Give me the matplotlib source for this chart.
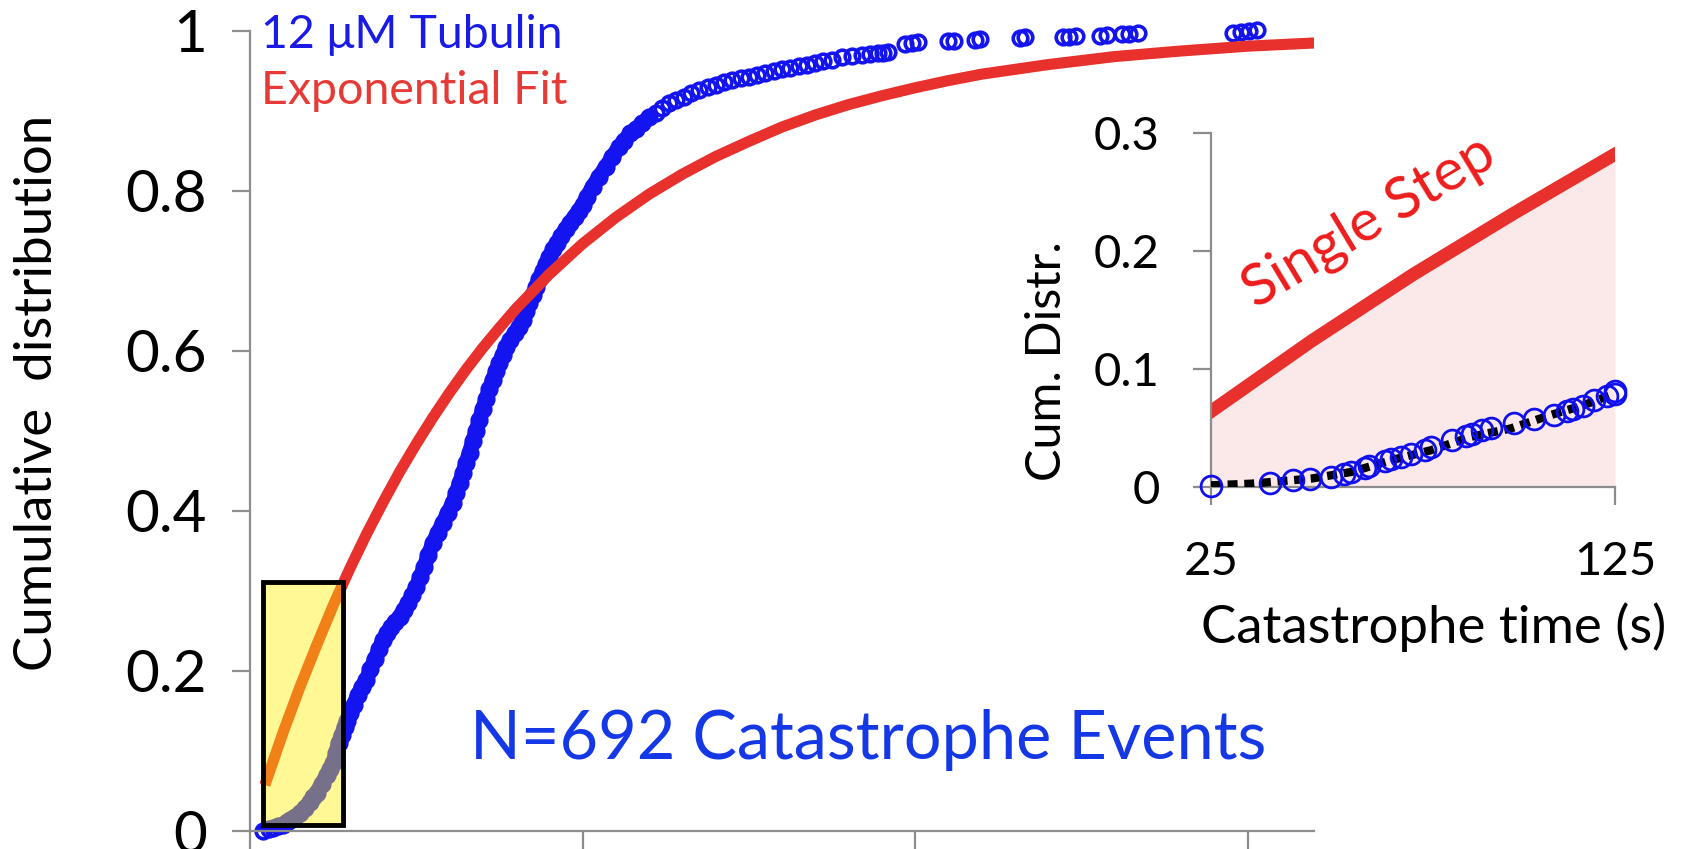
import numpy as np
import matplotlib.pyplot as plt
from matplotlib.patches import Rectangle

plt.rcParams['font.family'] = ['Lato', 'DejaVu Sans']

# catastrophe times (s) and cumulative fraction
blue_t = [20, 28, 35, 42, 50, 55, 60, 68, 75, 82, 90, 95, 100, 108, 115, 120, 125, 129,
          133, 138, 142, 146, 150, 156, 162, 168, 175, 181, 188, 194, 200, 206, 212, 218,
          225, 231, 238, 244, 250, 256, 262, 268, 275, 282, 290, 297, 305, 310, 315, 320,
          325, 330, 335, 340, 345, 350, 355, 360, 365, 370, 375, 380, 385, 391, 398, 404,
          410, 415, 420, 425, 430, 435, 440, 445, 450, 456, 462, 468, 475, 481, 488, 494,
          500, 507, 515, 525, 535, 545, 555, 563, 572, 581, 590, 600, 610, 620, 630, 641,
          652, 663, 675, 688, 700, 712, 725, 738, 750, 762, 775, 788, 800, 812, 825, 838,
          850, 862, 875, 890, 905, 920, 932, 945, 952, 960, 985, 995, 1005, 1050, 1058,
          1090, 1098, 1158, 1165, 1222, 1232, 1242, 1278, 1288, 1312, 1322, 1335, 1478,
          1490, 1502, 1515]
blue_F = [0.000, 0.002, 0.004, 0.006, 0.008, 0.011, 0.014, 0.018, 0.022, 0.029, 0.036, 0.042,
          0.048, 0.059, 0.070, 0.077, 0.085, 0.097, 0.110, 0.120, 0.130, 0.138, 0.147, 0.158,
          0.170, 0.180, 0.189, 0.202, 0.215, 0.227, 0.239, 0.247, 0.255, 0.261, 0.268, 0.276,
          0.285, 0.295, 0.305, 0.317, 0.330, 0.345, 0.360, 0.372, 0.385, 0.397, 0.410, 0.422,
          0.435, 0.447, 0.460, 0.473, 0.487, 0.500, 0.514, 0.527, 0.540, 0.552, 0.564, 0.575,
          0.585, 0.595, 0.605, 0.614, 0.622, 0.630, 0.639, 0.650, 0.660, 0.670, 0.680, 0.690,
          0.700, 0.709, 0.718, 0.727, 0.735, 0.744, 0.753, 0.760, 0.768, 0.775, 0.782, 0.793,
          0.805, 0.818, 0.830, 0.843, 0.855, 0.863, 0.872, 0.878, 0.885, 0.892, 0.898, 0.904,
          0.910, 0.914, 0.918, 0.922, 0.926, 0.930, 0.933, 0.936, 0.939, 0.941, 0.943, 0.945,
          0.947, 0.950, 0.953, 0.954, 0.956, 0.958, 0.960, 0.962, 0.964, 0.967, 0.969, 0.970,
          0.971, 0.972, 0.973, 0.974, 0.984, 0.985, 0.986, 0.987, 0.988, 0.989, 0.990, 0.991,
          0.992, 0.992, 0.993, 0.994, 0.994, 0.995, 0.996, 0.996, 0.997, 0.998, 0.999, 1.000,
          1.001]

# exponential fit
fit_t = [25, 50, 75, 100, 125, 150, 175, 200, 225, 250, 275, 300, 325, 350, 375, 400,
         450, 500, 550, 600, 650, 700, 750, 800, 850, 900, 950, 1000, 1050, 1100, 1150,
         1200, 1250, 1300, 1400, 1500, 1600]
fit_F = [0.064, 0.124, 0.180, 0.232, 0.282, 0.328, 0.371, 0.411, 0.449, 0.484, 0.517,
         0.548, 0.577, 0.604, 0.629, 0.653, 0.696, 0.734, 0.767, 0.796, 0.821, 0.843,
         0.862, 0.880, 0.895, 0.908, 0.919, 0.929, 0.938, 0.946, 0.952, 0.958, 0.963,
         0.968, 0.975, 0.981, 0.985]

# inset: zoom on 25-125 s
inset_t = [25, 39.5, 45.3, 49.6, 54.7, 58, 59.7, 63, 64.2, 68, 69.5, 72, 74.5, 78, 79.4,
           84.7, 88, 89.7, 92, 94.2, 99.9, 104.9, 109.8, 113, 114.7, 117, 119.7, 123, 125, 125]
inset_F = [0.001, 0.003, 0.006, 0.007, 0.0085, 0.011, 0.013, 0.016, 0.018, 0.022, 0.024,
           0.025, 0.028, 0.031, 0.034, 0.040, 0.043, 0.045, 0.048, 0.050, 0.054, 0.058,
           0.061, 0.064, 0.0665, 0.069, 0.074, 0.077, 0.079, 0.081]
multi_t = [25, 35, 49.8, 59.7, 69.5, 79.4, 89.3, 99.1, 109, 117.2, 125]
multi_F = [0.0014, 0.0028, 0.0071, 0.0127, 0.0226, 0.0311, 0.0425, 0.0495, 0.0609,
           0.0693, 0.0793]
single_t = [25, 50, 75, 100, 125]
single_F = [0.064, 0.124, 0.180, 0.232, 0.282]

BLUE = '#1414f0'
RED = '#e8302c'
GRAY = '#8c8c8c'

fig = plt.figure(figsize=(16.92, 8.49), dpi=100)
ax = fig.add_axes([0.1478, 0.0212, 0.6288, 0.9423])

n_dense = 94
ax.plot(blue_t[:n_dense], blue_F[:n_dense], color=BLUE, lw=11, solid_capstyle='round',
        zorder=2)
ax.plot(blue_t, blue_F, 'o', mfc='none', mec=BLUE, ms=10.5, mew=2.6, zorder=2,
        clip_on=False)
ax.plot(fit_t, fit_F, color=RED, lw=8, zorder=3)

# highlighted region shown in the inset
ax.add_patch(Rectangle((19.5, 0.0075), 120.5, 0.3035, facecolor=(1, 0.94, 0, 0.42),
                       edgecolor='black', lw=3.5, zorder=4))

ax.set_xlim(0, 1600)
ax.set_ylim(0, 1)
ax.set_xticks([0, 500, 1000, 1500])
ax.set_xticklabels([])
ax.set_yticks([0, 0.2, 0.4, 0.6, 0.8, 1])
ax.set_yticklabels(['0', '0.2', '0.4', '0.6', '0.8', '1'])
for s in ['top', 'right']:
    ax.spines[s].set_visible(False)
for s in ['left', 'bottom']:
    ax.spines[s].set_color(GRAY)
    ax.spines[s].set_linewidth(1.6)
ax.tick_params(direction='out', length=13, width=1.6, color=GRAY, labelsize=42, pad=18)

fig.text(0.022, 0.537, 'Cumulative  distribution', rotation=90, ha='center', va='center',
         fontsize=38)
fig.text(0.1543, 0.9435, '12 μM Tubulin', color='#1a1ae6', fontsize=33.5, va='baseline')
fig.text(0.1543, 0.8775, 'Exponential Fit', color='#e53a35', fontsize=33.5, va='baseline')
fig.text(0.2778, 0.106, 'N=692 Catastrophe Events', color='#1538e6', fontsize=48,
         va='baseline')

# inset
ins = fig.add_axes([0.7157, 0.4264, 0.2388, 0.4170])
ins.patch.set_alpha(0)
ins.fill_between(single_t, single_F, 0, color='#fbe8e8', lw=0, zorder=1)
ins.plot(single_t, single_F, color=RED, lw=9.5, zorder=2)
ins.plot(multi_t, multi_F, color='black', lw=6, ls=(0, (1.2, 0.8)), zorder=3)
ins.plot(inset_t, inset_F, 'o', mfc='none', mec='#1010ee', ms=15, mew=2, zorder=4,
         clip_on=False)
ins.set_xlim(25, 125)
ins.set_ylim(0, 0.3)
ins.set_xticks([25, 125])
ins.set_xticklabels(['25', '125'])
ins.set_yticks([0, 0.1, 0.2, 0.3])
ins.set_yticklabels(['0', '0.1', '0.2', '0.3'])
for s in ['top', 'right']:
    ins.spines[s].set_visible(False)
for s in ['left', 'bottom']:
    ins.spines[s].set_color(GRAY)
    ins.spines[s].set_linewidth(1.6)
ins.tick_params(direction='out', length=13, width=1.6, color=GRAY, labelsize=34)
ins.tick_params(axis='y', pad=24)
ins.tick_params(axis='x', pad=26)
ins.text(64, 0.225, 'Single Step', color='#ee1c1c', fontsize=42, rotation=31,
         ha='center', va='center')

fig.text(0.8475, 0.2426, 'Catastrophe time (s)', ha='center', va='baseline', fontsize=38)
fig.text(0.6188, 0.5748, 'Cum. Distr.', rotation=90, ha='center', va='center', fontsize=35)

fig.savefig('out.png', dpi=100)
